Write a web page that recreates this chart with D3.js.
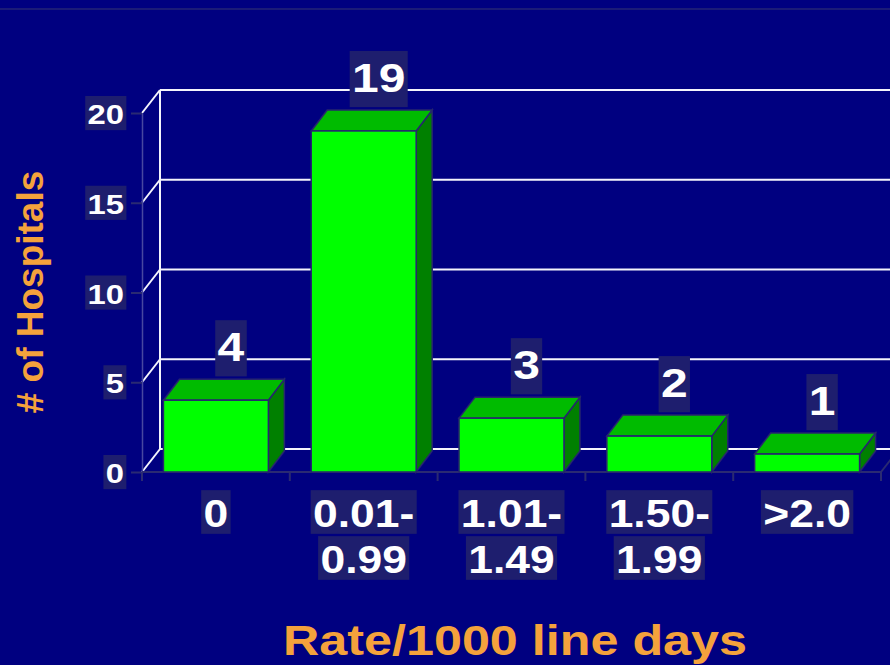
<!DOCTYPE html>
<html>
<head>
<meta charset="utf-8">
<script src="https://cdn.jsdelivr.net/npm/d3@7"></script>
<style>
    body { margin: 0; background: #000080; }
    svg { display: block; }
</style>
</head>
<body>
<div id="chart"></div>
<script>
// data
var categories = ['0', '0.01-0.99', '1.01-1.49', '1.50-1.99', '>2.0'];
var hospitals = [4, 19, 3, 2, 1];
var yTicks = [0, 5, 10, 15, 20];
var yTitle = '# of Hospitals';
var xTitle = 'Rate/1000 line days';

var w = 890, h = 665;
// note: "top" is taken by window.top, so plot edges get their own names
var plotLeft = 142, plotRight = 881, plotBottom = 472, plotTop = 113;
var dx = 18, dy = -23;     // depth of the back wall
var bdx = 16, bdy = -21;   // depth of the bars
var sx = 1.17;             // text on the slide is a bit wider than Arial
var boxColor = '#1e1e6e';
var darkLine = '#2a2a72';
var orange = '#f4a23c';
var font = '"Liberation Sans", Arial, sans-serif';

var svg = d3.select('#chart').append('svg')
    .attr('width', w)
    .attr('height', h);

svg.append('rect')
    .attr('width', w)
    .attr('height', h)
    .attr('fill', '#000080');

svg.append('line')
    .attr('x1', 0).attr('x2', w)
    .attr('y1', 9).attr('y2', 9)
    .attr('stroke', '#1b1b78')
    .attr('stroke-width', 2);

var yscale = d3.scaleLinear()
    .domain([0, 20])
    .range([plotBottom, plotTop]);

var xscale = d3.scaleBand()
    .domain(categories)
    .range([plotLeft, plotRight])
    .paddingInner(0.29)
    .paddingOuter(0.145);

// back wall + gridlines
var wall = svg.append('g');
wall.selectAll('line.grid')
    .data(yTicks)
    .enter()
    .append('line')
    .attr('class', 'grid')
    .attr('x1', plotLeft + dx).attr('x2', w)
    .attr('y1', function (d) { return yscale(d) + dy; })
    .attr('y2', function (d) { return yscale(d) + dy; })
    .attr('stroke', '#f4f4fc')
    .attr('stroke-width', 2);

wall.selectAll('line.diag')
    .data(yTicks)
    .enter()
    .append('line')
    .attr('class', 'diag')
    .attr('x1', plotLeft).attr('x2', plotLeft + dx)
    .attr('y1', function (d) { return yscale(d); })
    .attr('y2', function (d) { return yscale(d) + dy; })
    .attr('stroke', '#f4f4fc')
    .attr('stroke-width', 2);

wall.append('line')
    .attr('x1', plotLeft + dx).attr('x2', plotLeft + dx)
    .attr('y1', yscale(0) + dy).attr('y2', yscale(20) + dy)
    .attr('stroke', '#f4f4fc')
    .attr('stroke-width', 2);

// floor right edge
svg.append('line')
    .attr('x1', plotRight).attr('x2', plotRight + dx)
    .attr('y1', plotBottom).attr('y2', plotBottom + dy)
    .attr('stroke', darkLine)
    .attr('stroke-width', 2);

// y axis (lines only, labels drawn below)
var yAxis = d3.axisLeft(yscale)
    .tickValues(yTicks)
    .tickSize(11)
    .tickSizeOuter(0)
    .tickFormat('');
var yg = svg.append('g')
    .attr('transform', 'translate(' + plotLeft + ',0)')
    .call(yAxis);
yg.select('.domain').attr('stroke', '#4848a0').attr('stroke-width', 1.5);
yg.selectAll('.tick line').attr('stroke', darkLine).attr('stroke-width', 2);

// x axis line + ticks at the band edges
var step = xscale.step();
var edges = categories.map(function (c) {
    return xscale(c) - step * xscale.paddingInner() / 2;
});
edges.push(plotRight);
svg.append('line')
    .attr('x1', plotLeft).attr('x2', plotRight)
    .attr('y1', plotBottom).attr('y2', plotBottom)
    .attr('stroke', darkLine)
    .attr('stroke-width', 2);
svg.selectAll('line.xtick')
    .data(edges)
    .enter()
    .append('line')
    .attr('class', 'xtick')
    .attr('x1', function (d) { return d; })
    .attr('x2', function (d) { return d; })
    .attr('y1', plotBottom).attr('y2', plotBottom + 9)
    .attr('stroke', darkLine)
    .attr('stroke-width', 2);

// 3d bars
var bw = xscale.bandwidth();
var bars = svg.append('g').selectAll('g')
    .data(hospitals)
    .enter()
    .append('g');

bars.append('polygon')
    .attr('points', function (d, i) {
        var x0 = xscale(categories[i]) + bw, y0 = yscale(d), yb = yscale(0);
        return [[x0, yb], [x0 + bdx, yb + bdy], [x0 + bdx, y0 + bdy], [x0, y0]].join(' ');
    })
    .attr('fill', '#008000')
    .attr('stroke', '#26266e')
    .attr('stroke-width', 1.5);

bars.append('polygon')
    .attr('points', function (d, i) {
        var x0 = xscale(categories[i]), y0 = yscale(d);
        return [[x0, y0], [x0 + bdx, y0 + bdy], [x0 + bw + bdx, y0 + bdy], [x0 + bw, y0]].join(' ');
    })
    .attr('fill', '#00bb00')
    .attr('stroke', '#26266e')
    .attr('stroke-width', 1.5);

bars.append('rect')
    .attr('x', function (d, i) { return xscale(categories[i]); })
    .attr('y', function (d) { return yscale(d); })
    .attr('width', bw)
    .attr('height', function (d) { return yscale(0) - yscale(d); })
    .attr('fill', '#00ff00')
    .attr('stroke', '#26266e')
    .attr('stroke-width', 1.5);

// text with a dark box behind it
function addLabel(parent, str, x, y, size, anchor, boxTop, boxBottom) {
    var g = parent.append('g')
        .attr('transform', 'translate(' + x + ',' + y + ') scale(' + sx + ',1)');
    var rect = g.append('rect').attr('fill', boxColor);
    var t = g.append('text')
        .text(str)
        .attr('text-anchor', anchor)
        .attr('font-family', font)
        .attr('font-weight', 'bold')
        .attr('font-size', size + 'px')
        .attr('fill', '#fff');
    var bb = t.node().getBBox();
    rect.attr('x', bb.x - 2)
        .attr('width', bb.width + 4)
        .attr('y', -boxTop * size)
        .attr('height', (boxTop + boxBottom) * size);
}

var labels = svg.append('g');

yTicks.forEach(function (t) {
    addLabel(labels, String(t), 124, yscale(t) + 11, 28, 'end', 1.0, 0.22);
});

categories.forEach(function (c) {
    var cut = c.indexOf('-');
    var parts = cut > 0 ? [c.slice(0, cut + 1), c.slice(cut + 1)] : [c];
    parts.forEach(function (p, j) {
        addLabel(labels, p, xscale(c) + bw / 2, plotBottom + 55 + j * 46, 38, 'middle', 0.97, 0.18);
    });
});

hospitals.forEach(function (v, i) {
    addLabel(labels, String(v), xscale(categories[i]) + bw / 2 + 15, yscale(v) - 39, 41, 'middle', 1.0, 0.37);
});

// axis titles
svg.append('text')
    .text(yTitle)
    .attr('transform', 'translate(43,292) rotate(-90)')
    .attr('text-anchor', 'middle')
    .attr('font-family', font)
    .attr('font-weight', 'bold')
    .attr('font-size', '37px')
    .attr('fill', orange);

svg.append('text')
    .text(xTitle)
    .attr('transform', 'translate(515,655) scale(' + sx + ',1)')
    .attr('text-anchor', 'middle')
    .attr('font-family', font)
    .attr('font-weight', 'bold')
    .attr('font-size', '43px')
    .attr('fill', orange);
</script>
</body>
</html>
